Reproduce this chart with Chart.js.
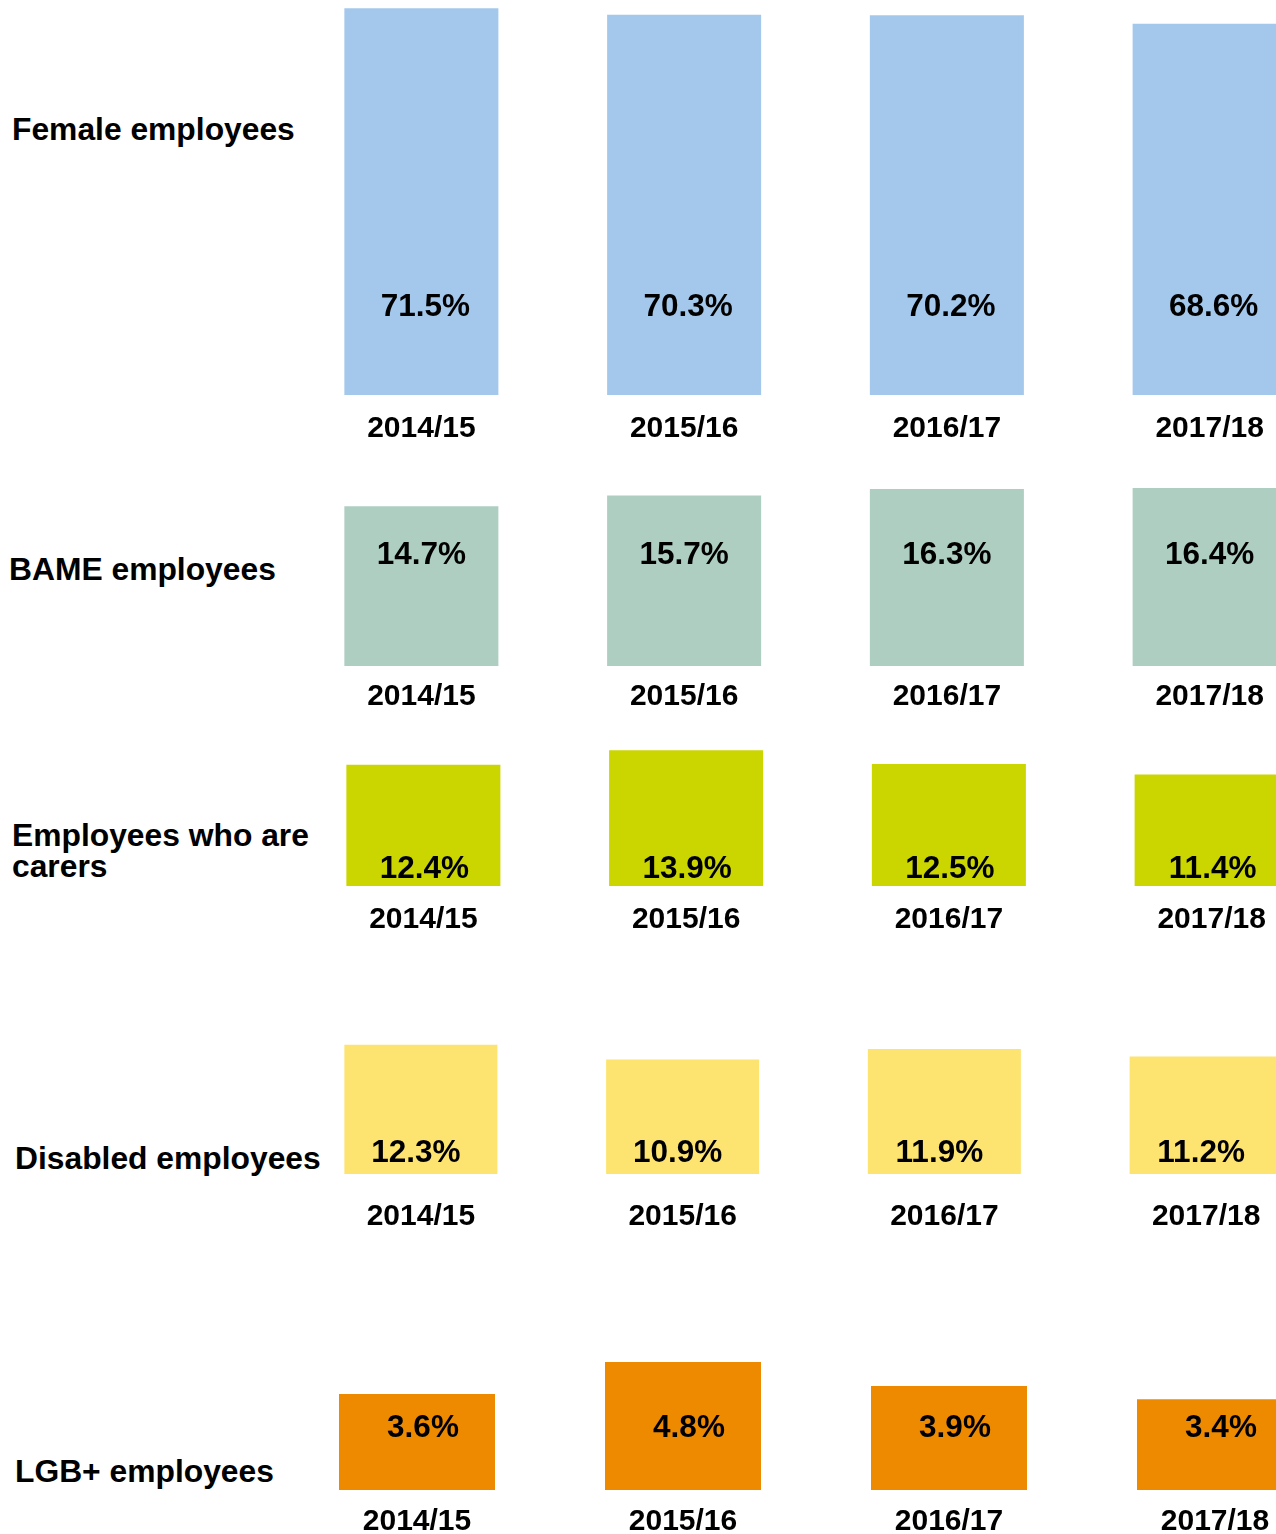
<!DOCTYPE html>
<html>
<head>
<meta charset="utf-8">
<script src="https://cdn.jsdelivr.net/npm/chart.js@4.4.1/dist/chart.umd.min.js"></script>
<style>
  html, body { margin: 0; padding: 0; background: #fff; overflow: hidden; width: 1276px; height: 1534px; }
  .row-label { position: absolute; font-family: "Liberation Sans", Arial, sans-serif; font-weight: bold;
               font-size: 31.8px; line-height: 31px; color: #000; white-space: nowrap; }
  canvas { position: absolute; }
</style>
</head>
<body>
<div id="wrap"></div>
<script>
// Data
const years = ['2014/15', '2015/16', '2016/17', '2017/18'];
const rowLabels = ['Female employees', 'BAME employees', 'Employees who are\ncarers', 'Disabled employees', 'LGB+ employees'];
const femaleValues = [71.5, 70.3, 70.2, 68.6];
const bameValues = [14.7, 15.7, 16.3, 16.4];
const carerValues = [12.4, 13.9, 12.5, 11.4];
const disabledValues = [12.3, 10.9, 11.9, 11.2];
const lgbValues = [3.6, 4.8, 3.9, 3.4];

// Layout for each row (baseline px, scale px per %, etc.)
const rows = [
  { values: femaleValues,   color: '#A3C8EC', baseline: 395,  ppu: 5.41,  height: 395, left: 289.6, step: 262.7, barW: 154, tickPad: 16, valOffset: 88,  valShift: 4,  labelX: 12, labelTop: 114 },
  { values: bameValues,     color: '#AECEC2', baseline: 666,  ppu: 10.86, height: 200, left: 289.6, step: 262.7, barW: 154, tickPad: 13, valOffset: 111, valShift: 0,  labelX: 9,  labelTop: 554 },
  { values: carerValues,    color: '#CBD600', baseline: 886,  ppu: 9.77,  height: 150, left: 291.6, step: 262.7, barW: 154, tickPad: 16, valOffset: 17,  valShift: 1,  labelX: 12, labelTop: 820 },
  { values: disabledValues, color: '#FDE470', baseline: 1174, ppu: 10.5,  height: 150, left: 289.6, step: 261.7, barW: 153, tickPad: 25, valOffset: 21,  valShift: -5, labelX: 15, labelTop: 1143 },
  { values: lgbValues,      color: '#EE8A00', baseline: 1490, ppu: 26.67, height: 150, left: 284,   step: 266,   barW: 156, tickPad: 14, valOffset: 62,  valShift: 6,  labelX: 15, labelTop: 1456 }
];

Chart.defaults.font.family = '"Liberation Sans", Arial, sans-serif';
Chart.defaults.color = '#000';

// draws the percentage text inside each bar at a fixed height above the baseline
const valueLabels = {
  id: 'valueLabels',
  afterDatasetsDraw(chart, args, opts) {
    const ctx = chart.ctx;
    const meta = chart.getDatasetMeta(0);
    const y = chart.scales.y.getPixelForValue(0) - opts.offset;
    ctx.save();
    ctx.font = 'bold 31.5px "Liberation Sans", Arial, sans-serif';
    ctx.fillStyle = '#000';
    ctx.textAlign = 'center';
    ctx.textBaseline = 'middle';
    meta.data.forEach((bar, i) => {
      ctx.fillText(chart.data.datasets[0].data[i].toFixed(1) + '%', bar.x + opts.shift, y);
    });
    ctx.restore();
  }
};

const wrap = document.getElementById('wrap');

rows.forEach((row, idx) => {
  const lbl = document.createElement('div');
  lbl.className = 'row-label';
  lbl.style.left = row.labelX + 'px';
  lbl.style.top = row.labelTop + 'px';
  lbl.innerHTML = rowLabels[idx].replace('\n', '<br>');
  wrap.appendChild(lbl);

  const axisH = row.tickPad + 40;
  const canvas = document.createElement('canvas');
  const w = Math.round(row.step * 4);
  const h = row.height + axisH;
  canvas.width = w;
  canvas.height = h;
  canvas.style.width = w + 'px';
  canvas.style.height = h + 'px';
  canvas.style.left = row.left + 'px';
  canvas.style.top = (row.baseline - row.height) + 'px';
  wrap.appendChild(canvas);

  new Chart(canvas.getContext('2d'), {
    type: 'bar',
    data: {
      labels: years,
      datasets: [{
        data: row.values,
        backgroundColor: row.color,
        borderWidth: 0,
        categoryPercentage: 1,
        barPercentage: row.barW / row.step
      }]
    },
    options: {
      responsive: false,
      animation: false,
      layout: { padding: 0 },
      plugins: {
        legend: { display: false },
        tooltip: { enabled: false },
        valueLabels: { offset: row.valOffset, shift: row.valShift }
      },
      scales: {
        x: {
          grid: { display: false, drawTicks: false },
          border: { display: false },
          afterFit: function(scale) { scale.height = axisH; },
          ticks: {
            padding: row.tickPad,
            color: '#000',
            font: { size: 30, weight: 'bold' },
            maxRotation: 0
          }
        },
        y: {
          display: false,
          min: 0,
          max: row.height / row.ppu
        }
      }
    },
    plugins: [valueLabels]
  });
});
</script>
</body>
</html>
